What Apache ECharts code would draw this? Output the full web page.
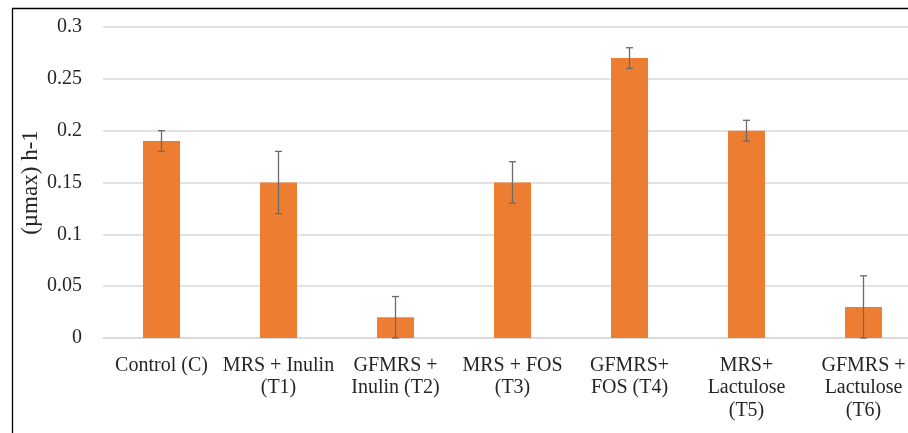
<!DOCTYPE html>
<html>
<head>
<meta charset="utf-8">
<script src="https://cdn.jsdelivr.net/npm/echarts@6/dist/echarts.min.js"></script>
<style>html,body{margin:0;padding:0;background:#fff;overflow:hidden;}#c{width:922px;height:433px;}</style>
</head>
<body>
<div id="c"></div>
<script>
const categories = ["Control (C)", "MRS + Inulin\n(T1)", "GFMRS +\nInulin (T2)", "MRS + FOS\n(T3)", "GFMRS+\nFOS (T4)", "MRS+\nLactulose\n(T5)", "GFMRS +\nLactulose\n(T6)"];
const values = [0.19, 0.15, 0.02, 0.15, 0.27, 0.20, 0.03];
const errors = [0.01, 0.03, 0.02, 0.02, 0.01, 0.01, 0.03];
const yTicks = [0, 0.05, 0.1, 0.15, 0.2, 0.25, 0.3];
const yName = "(µmax) h-1";

const chart = echarts.init(document.getElementById('c'), null, {renderer: 'canvas'});
const font = '"Liberation Serif", "Times New Roman", serif';
const errData = values.map((v, i) => [i, v - errors[i], v + errors[i]]);
chart.setOption({
  animation: false,
  textStyle: {fontFamily: font},
  graphic: [{
    type: 'rect', left: 10, top: 6, z: 100,
    shape: {width: 1000, height: 1000},
    style: {fill: 'none', stroke: '#000', lineWidth: 1.3}
  }],
  grid: {left: 103, right: 0, top: 27, bottom: 95, containLabel: false},
  xAxis: {
    type: 'category', data: categories,
    axisLine: {show: true, lineStyle: {color: '#d9d9d9', width: 1.5}},
    axisTick: {show: false},
    axisLabel: {interval: 0, color: '#262626', fontSize: 20, lineHeight: 22.5, margin: 16, fontFamily: font}
  },
  yAxis: {
    type: 'value', min: 0, max: 0.3, interval: 0.05,
    name: yName, nameLocation: 'middle', nameGap: 61, nameRotate: 90, nameMoveOverlap: false,
    nameTextStyle: {color: '#262626', fontSize: 23, fontFamily: font},
    axisLine: {show: false}, axisTick: {show: false},
    axisLabel: {color: '#262626', fontSize: 20, margin: 21, fontFamily: font,
      formatter: v => { const t = yTicks.find(x => Math.abs(x - v) < 1e-9); return t === undefined ? '' : String(t); }},
    splitLine: {lineStyle: {color: '#d9d9d9', width: 1.5}}
  },
  series: [{
    type: 'bar', data: values, barWidth: 37,
    itemStyle: {color: '#ED7D31'}
  }, {
    type: 'custom', data: errData, z: 10,
    renderItem: function (params, api) {
      const x = api.value(0);
      const lo = api.coord([x, api.value(1)]);
      const hi = api.coord([x, api.value(2)]);
      const cw = 3.5;
      const st = {stroke: '#6b6b6b', lineWidth: 1.3};
      return {type: 'group', children: [
        {type: 'line', shape: {x1: lo[0], y1: lo[1], x2: hi[0], y2: hi[1]}, style: st},
        {type: 'line', shape: {x1: lo[0] - cw, y1: lo[1], x2: lo[0] + cw, y2: lo[1]}, style: st},
        {type: 'line', shape: {x1: hi[0] - cw, y1: hi[1], x2: hi[0] + cw, y2: hi[1]}, style: st}
      ]};
    }
  }]
});
</script>
</body>
</html>
